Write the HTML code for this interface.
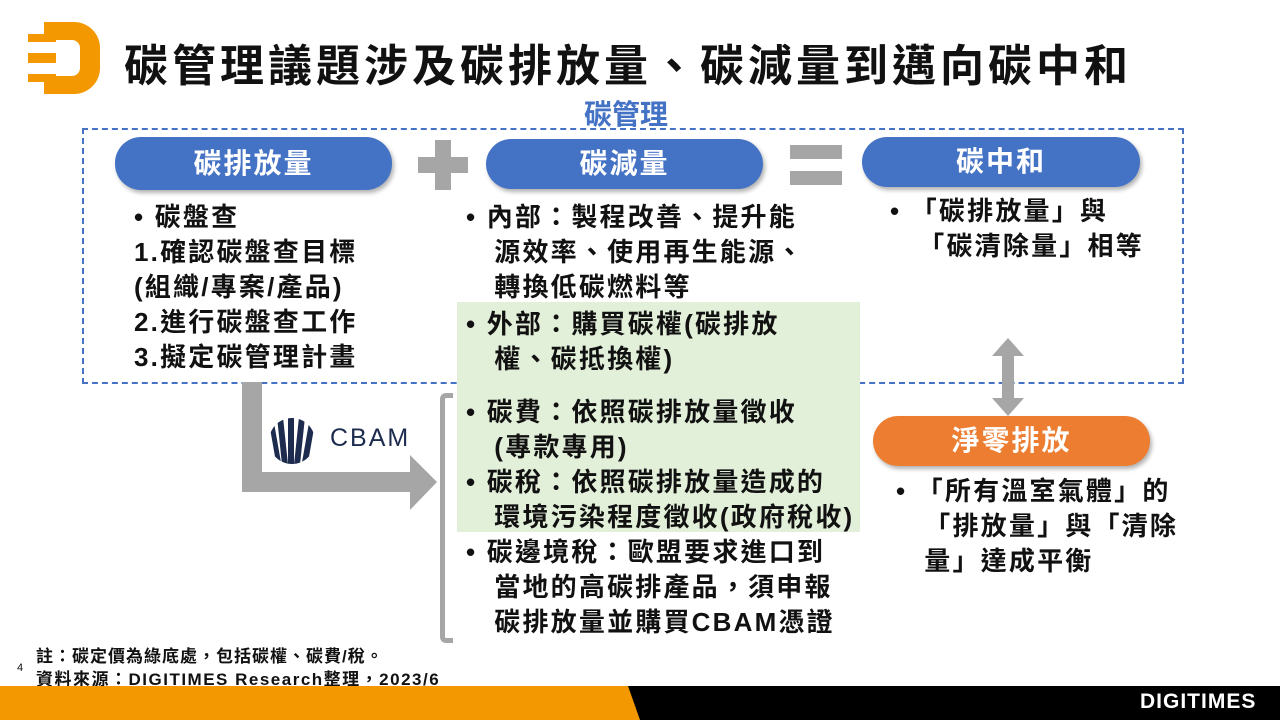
<!DOCTYPE html>
<html><head><meta charset="utf-8"><style>
body{margin:0;width:1280px;height:720px;position:relative;overflow:hidden;background:#fff;font-family:"Liberation Sans","Noto Sans CJK TC",sans-serif;}
.a{position:absolute;}
.pill{position:absolute;background:#4472c4;color:#fff;border-radius:26px;text-align:center;font-size:28px;font-weight:bold;letter-spacing:2px;box-shadow:2px 3px 4px rgba(0,0,0,.3);}
.t{position:absolute;font-size:26px;font-weight:bold;letter-spacing:2.2px;line-height:35px;color:#111;white-space:nowrap;}
</style></head><body>
<svg class="a" style="left:22px;top:20px" width="80" height="78"><path d="M22 2 H52 A26 26 0 0 1 78 28 V48 A26 26 0 0 1 52 74 H22 V56 H50 A8 8 0 0 0 58 48 V28 A8 8 0 0 0 50 20 H22Z" fill="#f39800"/><rect x="6" y="14" width="28" height="8" fill="#f39800"/><rect x="6" y="33" width="28" height="10" fill="#f39800"/><rect x="6" y="54" width="28" height="8" fill="#f39800"/></svg>
<div class="a" style="left:124px;top:30px;font-size:44px;font-weight:bold;color:#111;letter-spacing:4px">碳管理議題涉及碳排放量、碳減量到邁向碳中和</div>
<div class="a" style="left:584px;top:93px;font-size:28px;font-weight:bold;color:#4472c4">碳管理</div>
<div class="a" style="left:82px;top:128px;width:1098px;height:252px;border:2px dashed #4472c4"></div>
<div class="a" style="left:457px;top:302px;width:403px;height:230px;background:#e2efd9"></div>
<div class="pill" style="left:115px;top:137px;width:277px;height:53px;line-height:53px">碳排放量</div>
<div class="pill" style="left:486px;top:139px;width:277px;height:50px;line-height:50px">碳減量</div>
<div class="pill" style="left:862px;top:137px;width:278px;height:50px;line-height:50px">碳中和</div>
<div class="pill" style="left:873px;top:416px;width:277px;height:50px;line-height:50px;background:#ed7d31">淨零排放</div>
<div class="a" style="left:418px;top:157px;width:50px;height:16px;background:#a6a6a6"></div>
<div class="a" style="left:435px;top:140px;width:16px;height:50px;background:#a6a6a6"></div>
<div class="a" style="left:790px;top:145px;width:52px;height:14px;background:#a6a6a6"></div>
<div class="a" style="left:790px;top:171px;width:52px;height:14px;background:#a6a6a6"></div>
<svg class="a" style="left:230px;top:380px" width="220" height="135"><path d="M12 2 H32 V92 H180 V75 L207 102 L180 130 V112 H12Z" fill="#a6a6a6"/></svg>
<svg class="a" style="left:990px;top:338px" width="36" height="78"><path d="M18 0 L34 18 H24 V60 H34 L18 78 L2 60 H12 V18 H2Z" fill="#a6a6a6"/></svg>
<div class="a" style="left:440px;top:393px;width:8px;height:240px;border:5px solid #a6a6a6;border-right:none;border-radius:6px 0 0 6px"></div>
<svg class="a" style="left:268px;top:417px" width="50" height="50"><defs><clipPath id="c"><circle cx="24" cy="24" r="23"/></clipPath></defs><g clip-path="url(#c)" fill="#1d2b4f"><rect x="0" y="0" width="5" height="50" transform="skewX(10)"/><rect x="9" y="0" width="6" height="50" transform="skewX(6)"/><rect x="20" y="0" width="6" height="50"/><rect x="31" y="0" width="6" height="50" transform="skewX(-6)"/><rect x="42" y="0" width="6" height="50" transform="skewX(-10)"/></g></svg>
<div class="a" style="left:330px;top:424px;font-size:25px;color:#1d2b4f;letter-spacing:2px">CBAM</div>
<div class="t" style="left:134px;top:200px">• 碳盤查<br>1.確認碳盤查目標<br>(組織/專案/產品)<br>2.進行碳盤查工作<br>3.擬定碳管理計畫</div>
<div class="t" style="left:466px;top:200px">• 內部：製程改善、提升能<br>&nbsp;&nbsp;&nbsp;源效率、使用再生能源、<br>&nbsp;&nbsp;&nbsp;轉換低碳燃料等</div>
<div class="t" style="left:466px;top:307px">• 外部：購買碳權(碳排放<br>&nbsp;&nbsp;&nbsp;權、碳抵換權)</div>
<div class="t" style="left:466px;top:395px">• 碳費：依照碳排放量徵收<br>&nbsp;&nbsp;&nbsp;(專款專用)<br>• 碳稅：依照碳排放量造成的<br>&nbsp;&nbsp;&nbsp;環境污染程度徵收(政府稅收)<br>• 碳邊境稅：歐盟要求進口到<br>&nbsp;&nbsp;&nbsp;當地的高碳排產品，須申報<br>&nbsp;&nbsp;&nbsp;碳排放量並購買CBAM憑證</div>
<div class="t" style="left:890px;top:194px">• 「碳排放量」與<br>&nbsp;&nbsp;&nbsp;「碳清除量」相等</div>
<div class="t" style="left:896px;top:474px">• 「所有溫室氣體」的<br>&nbsp;&nbsp;&nbsp;「排放量」與「清除<br>&nbsp;&nbsp;&nbsp;量」達成平衡</div>
<div class="a" style="left:36px;top:642px;font-size:17px;font-weight:bold;letter-spacing:1px;color:#111">註：碳定價為綠底處，包括碳權、碳費/稅。</div>
<div class="a" style="left:17px;top:662px;font-size:11px;color:#111">4</div>
<div class="a" style="left:36px;top:665px;font-size:17px;font-weight:bold;letter-spacing:1.5px;color:#111">資料來源：DIGITIMES Research整理，2023/6</div>
<div class="a" style="left:0;top:686px;width:1280px;height:34px;background:#000"></div>
<svg class="a" style="left:0;top:686px" width="660" height="34"><path d="M0 0 H628 L640 34 H0Z" fill="#f39800"/></svg>
<div class="a" style="left:1140px;top:690px;font-size:21px;font-weight:bold;color:#fff;letter-spacing:1px">DIGITIMES</div>
</body></html>
